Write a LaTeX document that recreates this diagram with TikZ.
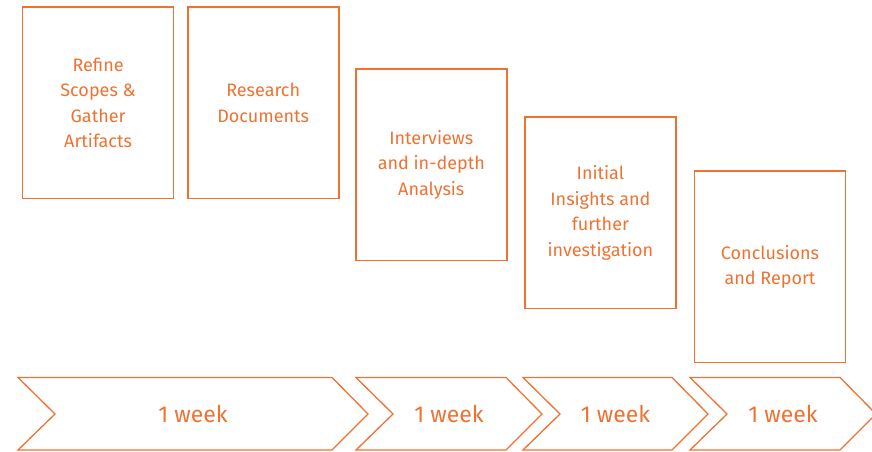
\documentclass[tikz,border=0pt]{standalone}
\usepackage{fontspec}
\setmainfont{Fira Sans}
\usetikzlibrary{positioning}
\definecolor{rustorange}{RGB}{238,114,50}

\begin{document}
\begin{tikzpicture}[x=1pt, y=1pt, auto]

    \tikzstyle{phase} = [rectangle, minimum width=151pt, minimum height=191.5pt, align=center, draw=rustorange, text=rustorange, line width=1.6pt, font=\fontsize{18}{25.5}\selectfont]
    \tikzstyle{span}  = [draw=rustorange, line width=1.3pt, line join=miter]
    \tikzstyle{weeks} = [text=rustorange, font=\fontsize{23}{27}\selectfont]

    \useasboundingbox (0,0) rectangle (872,451);

    \node (refine)      [phase, anchor=north west] at (21.8,444.8)         {Refine\\Scopes \&\\Gather\\Artifacts};

    \node (research)    [phase, right=12.5pt of refine]                    {Research\\Documents};

    \node (interviews)  [phase, below right=62pt and 15.5pt of research.north east]   {Interviews\\and in-depth\\Analysis};

    \node (insights)    [phase, below right=48pt and 16.5pt of interviews.north east] {Initial\\Insights and\\further\\investigation};

    \node (conclusions) [phase, below right=54pt and 17pt of insights.north east]     {Conclusions\\and Report};

    % week chevrons along the bottom
    \foreach \l/\r [count=\i] in {18/332, 356/506, 523/672, 690/840} {
        \draw[span] (\l,73.5) -- (\r,73.5) -- (\r+36,37) -- (\r,1) -- (\l,1) -- (\l+37,37) -- cycle;
        \node (week\i) [weeks] at ({(\l+\r+36)/2},37) {1 week};
    }
\end{tikzpicture}
\end{document}
